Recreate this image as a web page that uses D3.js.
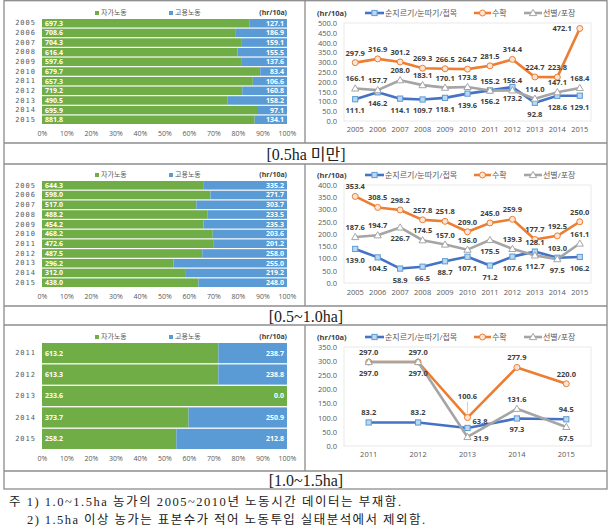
<!DOCTYPE html>
<html><head><meta charset="utf-8">
<script src="https://cdn.jsdelivr.net/npm/d3@7"></script>
<style>
body{margin:0;background:#fff}
text{font-family:"Open Sans","Noto Sans CJK KR",sans-serif}
</style>
</head><body>
<svg id="c" width="615" height="529"></svg>
<script>
// ---------- DATA ----------
const yearsA = ["2005","2006","2007","2008","2009","2010","2011","2012","2013","2014","2015"];
const yearsB = ["2011","2012","2013","2014","2015"];
const pctTicks = [0,0.1,0.2,0.3,0.4,0.5,0.6,0.7,0.8,0.9,1.0];
const barSeries = ["자가노동","고용노동"];
const lineSeries = ["순지르기/눈따기/접목","수확","선별/포장"];
const unitLabel = "(hr/10a)";

// [0.5ha 미만]
const own1   = [697.3,708.6,704.3,616.4,597.6,679.7,657.3,719.2,490.5,695.9,881.8];
const hired1 = [127.1,186.9,159.1,155.5,137.6,83.4,106.6,160.8,158.2,97.1,134.1];
const prune1   = [111.1,146.2,114.1,109.7,118.1,139.6,156.2,173.2,92.8,128.6,129.1];
const harvest1 = [297.9,316.9,301.2,269.3,266.5,264.7,281.5,314.4,224.7,223.8,472.1];
const sort1    = [166.1,157.7,208.0,183.1,170.1,173.8,155.2,156.4,114.0,147.1,168.4];
const yTicks1 = [0,50,100,150,200,250,300,350,400,450,500];

// [0.5~1.0ha]
const own2   = [644.3,598.0,517.0,488.2,454.2,468.2,472.6,487.5,296.2,312.0,438.0];
const hired2 = [335.2,271.7,303.7,233.5,235.3,203.6,201.2,258.0,255.0,219.2,248.0];
const prune2   = [139.0,104.5,58.9,66.5,88.7,107.1,71.2,107.6,128.1,103.0,106.2];
const harvest2 = [353.4,308.5,298.2,257.8,251.8,209.0,245.0,259.9,177.7,192.5,250.0];
const sort2    = [187.6,194.7,226.7,174.5,157.0,136.0,175.5,139.3,112.7,97.5,161.1];
const yTicks2 = [0,50,100,150,200,250,300,350,400];

// [1.0~1.5ha]
const own3   = [613.2,613.3,233.6,373.7,258.2];
const hired3 = [238.7,238.8,0.0,250.9,212.8];
const prune3   = [83.2,83.2,63.8,97.3,94.5];
const harvest3 = [297.0,297.0,100.6,277.9,220.0];
const sort3    = [297.0,297.0,31.9,131.6,67.5];
const yTicks3 = [0,50,100,150,200,250,300,350];

const captions = ["[0.5ha 미만]","[0.5~1.0ha]","[1.0~1.5ha]"];
const notes = ["주 1) 1.0~1.5ha 농가의 2005~2010년 노동시간 데이터는 부재함.",
               "2) 1.5ha 이상 농가는 표본수가 적어 노동투입 실태분석에서 제외함."];

// ---------- STYLE ----------
const GREEN="#70AD47", BLUEBAR="#5B9BD5";
const LC = ["#4472C4","#ED7D31","#A5A5A5"];
const MF = ["#BDD7EE","#FBE5D6","#FFFFFF"];
const TXT="#595959";
const svg = d3.select("#c");

// label placement codes (a=above, b=below, l=left, r=right, ar=above-right, aa=far above)
const OFF = {a:[0,-7,"middle"], b:[0,14,"middle"], l:[-8,3,"end"], r:[6,4,"start"], ar:[5,-4,"start"], aa:[0,-19,"middle"]};
const pos1 = [Array(11).fill("b"),
              ["a","a","a","a","a","a","a","a","a","a","l"],
              Array(11).fill("a")];
const pos2 = [["b","b","b","b","b","b","b","b","a","a","b"],
              Array(11).fill("a"),
              ["a","a","b","a","a","a","b","a","b","b","a"]];
const pos3 = [["a","a","ar","b","a"],["a","a","aa","a","a"],["b","b","r","a","b"]];

// ---------- TABLE ----------
const TL=4, TR=607;
const tbl = svg.append("g").attr("stroke","#8c8c8c").attr("stroke-width",1.3).attr("fill","none");
tbl.append("rect").attr("x",TL).attr("y",0.7).attr("width",TR-TL).attr("height",488.3);
[143,164,306,325,471].forEach(yy=>tbl.append("line").attr("x1",TL).attr("x2",TR).attr("y1",yy).attr("y2",yy));
[[0,143],[164,306],[325,471]].forEach(([a,b])=>tbl.append("line").attr("x1",305).attr("x2",305).attr("y1",a).attr("y2",b));

[[154,0],[316,1],[480,2]].forEach(([yy,i])=>{
  svg.append("text").attr("x",306).attr("y",yy).attr("dy","0.36em").attr("text-anchor","middle")
    .style("font-family",'"Liberation Serif","Noto Sans CJK KR",serif').style("font-size","16px").attr("fill","#222")
    .text(captions[i]);
});
svg.append("text").attr("x",9).attr("y",501).attr("dy","0.36em").attr("textLength",392).attr("lengthAdjust","spacing")
  .style("font-family",'"Liberation Serif","Noto Sans CJK KR",serif').style("font-size","12.5px").attr("fill","#222").text(notes[0]);
svg.append("text").attr("x",27).attr("y",519).attr("dy","0.36em").attr("textLength",398).attr("lengthAdjust","spacing")
  .style("font-family",'"Liberation Serif","Noto Sans CJK KR",serif').style("font-size","12.5px").attr("fill","#222").text(notes[1]);

// ---------- BAR CHART ----------
function barChart(c){
  const g = svg.append("g");
  const x = d3.scaleLinear().domain([0,1]).range([42,287]);
  const y = d3.scaleBand().domain(c.years).range([c.top,c.bottom]).paddingInner(c.pad).paddingOuter(0);
  const rows = c.years.map((yr,i)=>({yr,own:c.own[i],hired:c.hired[i],t:c.own[i]+c.hired[i]}));
  g.selectAll(".o").data(rows).join("rect").attr("x",x(0)).attr("y",d=>y(d.yr))
    .attr("width",d=>x(d.own/d.t)-x(0)).attr("height",y.bandwidth()).attr("fill",GREEN);
  g.selectAll(".h").data(rows).join("rect").attr("x",d=>x(d.own/d.t)).attr("y",d=>y(d.yr))
    .attr("width",d=>x(1)-x(d.own/d.t)).attr("height",y.bandwidth()).attr("fill",BLUEBAR);
  g.selectAll(".ol").data(rows).join("text").attr("x",x(0)+3).attr("y",d=>y(d.yr)+y.bandwidth()/2).attr("dy","0.35em")
    .attr("fill","#fff").style("font-size","7px").style("font-weight","bold").text(d=>d.own.toFixed(1));
  g.selectAll(".hl").data(rows).join("text").attr("x",x(1)-3).attr("y",d=>y(d.yr)+y.bandwidth()/2).attr("dy","0.35em")
    .attr("text-anchor","end").attr("fill","#fff").style("font-size","7px").style("font-weight","bold").text(d=>d.hired.toFixed(1));
  const ya = g.append("g").attr("transform","translate(36,0)").call(d3.axisLeft(y).tickSize(0).tickPadding(0));
  ya.select(".domain").remove();
  ya.selectAll("text").attr("fill",TXT).style("font-size","7px").style("letter-spacing","1px").style("font-family","'DejaVu Sans Mono',monospace");
  const xa = g.append("g").attr("transform",`translate(0,${c.axisY})`)
    .call(d3.axisBottom(x).tickValues(pctTicks).tickFormat(d3.format(".0%")).tickSize(0).tickPadding(0));
  xa.select(".domain").remove();
  xa.selectAll("text").attr("dy","0.35em").attr("fill",TXT).style("font-size","7px");
  [[95,GREEN],[169,BLUEBAR]].forEach(([lx,col],i)=>{
    g.append("rect").attr("x",lx).attr("y",c.legendY-2).attr("width",4).attr("height",4).attr("fill",col);
    g.append("text").attr("x",lx+6).attr("y",c.legendY).attr("dy","0.35em").attr("fill",TXT).style("font-size","7px").text(barSeries[i]);
  });
  g.append("text").attr("x",287).attr("y",c.legendY).attr("dy","0.35em").attr("text-anchor","end")
    .attr("fill","#404040").style("font-size","7px").style("font-weight","bold").text(unitLabel);
}

// ---------- LINE CHART ----------
function lineChart(c){
  const g = svg.append("g");
  const x = d3.scaleBand().domain(c.years).range([344,591]);
  const cx = d=>x(d)+x.bandwidth()/2;
  const y = d3.scaleLinear().domain([0,c.max]).range([c.y0,c.y1]);
  g.append("rect").attr("x",344).attr("y",y(c.max)).attr("width",247).attr("height",y(0)-y(c.max))
    .attr("fill","none").attr("stroke","#e3e3e3").attr("stroke-width",0.8);
  const ya = g.append("g").attr("transform","translate(337,0)")
    .call(d3.axisLeft(y).tickValues(c.ticks).tickFormat(d3.format(".1f")).tickSize(0).tickPadding(0));
  ya.select(".domain").remove();
  ya.selectAll("text").attr("fill",TXT).style("font-size","7.5px");
  const xa = g.append("g").attr("transform",`translate(0,${c.axisY})`).call(d3.axisBottom(x).tickSize(0).tickPadding(0));
  xa.select(".domain").remove();
  xa.selectAll("text").attr("dy","0.35em").attr("fill",TXT).style("font-size","7.5px");
  const line = d3.line().x((d,i)=>cx(c.years[i])).y(d=>y(d));
  c.series.forEach((s,k)=>{
    g.append("path").attr("d",line(s)).attr("fill","none").attr("stroke",LC[k]).attr("stroke-width",2.6).attr("stroke-linejoin","round");
  });
  const marker = (sel,k,px,py)=>{
    if(k===0) sel.append("rect").attr("x",px-2.6).attr("y",py-2.6).attr("width",5.2).attr("height",5.2)
      .attr("fill",MF[0]).attr("stroke","#5B9BD5").attr("stroke-width",1);
    else if(k===1) sel.append("circle").attr("cx",px).attr("cy",py).attr("r",3).attr("fill",MF[1]).attr("stroke",LC[1]).attr("stroke-width",1);
    else sel.append("path").attr("d",`M${px},${py-3.6}L${px+3.6},${py+2.6}L${px-3.6},${py+2.6}Z`).attr("fill",MF[2]).attr("stroke",LC[2]).attr("stroke-width",1);
  };
  c.series.forEach((s,k)=>s.forEach((v,i)=>marker(g,k,cx(c.years[i]),y(v))));
  c.series.forEach((s,k)=>s.forEach((v,i)=>{
    const code = c.pos[k][i], o = OFF[code];
    const px = cx(c.years[i]), py = y(v);
    if(code==="aa") g.append("line").attr("x1",px).attr("x2",px).attr("y1",py-4).attr("y2",py+o[1]+3).attr("stroke","#bfbfbf").attr("stroke-width",0.7);
    g.append("text").attr("x",px+o[0]).attr("y",py+o[1]).attr("text-anchor",o[2])
      .attr("fill","#404040").style("font-size","7.5px").style("font-weight","bold").text(v.toFixed(1));
  }));
  const ly=c.legendY;
  g.append("text").attr("x",317).attr("y",ly).attr("dy","0.35em").attr("fill","#404040").style("font-size","7.5px").style("font-weight","bold").text(unitLabel);
  [[365,384],[474,491],[524,542]].forEach(([a,b],k)=>{
    g.append("line").attr("x1",a).attr("x2",b).attr("y1",ly).attr("y2",ly).attr("stroke",LC[k]).attr("stroke-width",2.6);
    marker(g,k,(a+b)/2,ly);
    g.append("text").attr("x",b+1).attr("y",ly).attr("dy","0.35em").attr("fill",TXT).style("font-size","8px").text(lineSeries[k]);
  });
}

barChart({years:yearsA,own:own1,hired:hired1,top:19,bottom:124,pad:0.12,axisY:134,legendY:13});
barChart({years:yearsA,own:own2,hired:hired2,top:181,bottom:287,pad:0.12,axisY:297,legendY:175});
barChart({years:yearsB,own:own3,hired:hired3,top:343,bottom:449,pad:0.06,axisY:459,legendY:337});

lineChart({years:yearsA,series:[prune1,harvest1,sort1],pos:pos1,max:500,ticks:yTicks1,y0:121,y1:23,axisY:129,legendY:13});
lineChart({years:yearsA,series:[prune2,harvest2,sort2],pos:pos2,max:400,ticks:yTicks2,y0:283,y1:185,axisY:292,legendY:175});
lineChart({years:yearsB,series:[prune3,harvest3,sort3],pos:pos3,max:350,ticks:yTicks3,y0:446,y1:347,axisY:454,legendY:337});
</script>
</body></html>
